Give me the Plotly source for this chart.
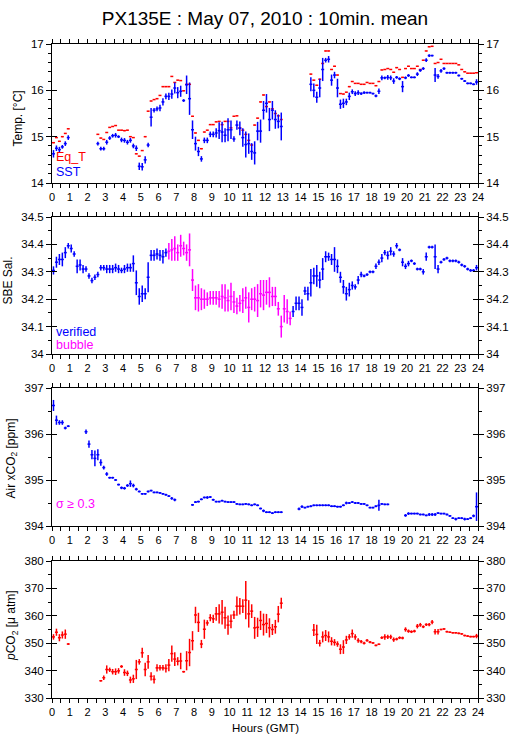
import plotly.graph_objects as go

# ---------------- data (10-min means, slot k = 0..143 covers k/6 .. (k+1)/6 h) ----------------
HOURS = [k / 6 + 1 / 12 for k in range(144)]
X_TICKS = [i / 2 for i in range(49)]
X_LABELS = [str(int(t)) if t == int(t) else "" for t in X_TICKS]

SST = ([14.63, 14.75, 14.72, 14.78, 14.85, 14.98] + [None] * 9 +
       [14.85, 14.74, 14.74, 14.88, 14.97, 15.02, 15.03, 15.00, 14.93, 14.92, 14.88, 14.92, 14.80, 14.75,
        14.36, 14.35, 14.50, 14.82, 15.42, 15.57, 15.60, 15.62, 15.75, 15.87, 15.87, 15.92, 16.05, 15.95,
        15.98, 15.78, 16.12, 15.82, 15.15, 14.85, 14.68, 14.52, 14.92, 14.92, 15.05, 15.05, 15.08, 15.13,
        15.10, 15.03, 15.15, 15.15, 14.95, 15.25, 15.18, 14.98, 14.83, 14.85, 14.68, 14.65, 15.12, 15.12,
        15.57, 15.72, 15.37, 15.57, 15.37, 15.33, 15.22] + [None] * 9 +
       [16.13, 16.00, 15.85, 16.05, 16.45, 16.65, 16.67, 16.22, 16.33, 16.05, 15.70, 15.72, 15.75, 15.87,
        15.97, 15.93, 15.95, 15.93, 15.95, 15.95, 15.95, 15.93, 15.88, 15.98, 16.27, 16.27, 16.28, 16.27,
        16.20, 16.28, 16.25, 16.08, 16.27, 16.32, 16.28, 16.28, 16.35, 16.43, 16.47, 16.65, 16.75, 16.75,
        16.33, 16.30, 16.42, 16.47, 16.38, 16.38, 16.38, 16.38, 16.32, 16.25, 16.20, 16.15, 16.15, 16.13,
        16.18])
SST_SD = ([0.08, 0.06, 0.06, 0.04, 0.05, 0.05] + [None] * 9 +
          [0.04, 0.04, 0.04, 0.05, 0.04, 0.04, 0.05, 0.03, 0.05, 0.05, 0.05, 0.05, 0.05, 0.06, 0.08, 0.08,
           0.08, 0.05, 0.2, 0.05, 0.05, 0.07, 0.08, 0.06, 0.08, 0.1, 0.12, 0.12, 0.12, 0.03, 0.2, 0.35,
           0.2, 0.15, 0.1, 0.06, 0.06, 0.06, 0.06, 0.06, 0.1, 0.18, 0.22, 0.15, 0.25, 0.2, 0.06, 0.1,
           0.15, 0.2, 0.28, 0.22, 0.18, 0.25, 0.2, 0.25, 0.2, 0.2, 0.25, 0.2, 0.2, 0.15, 0.3] + [None] * 9 +
          [0.15, 0.15, 0.12, 0.2, 0.25, 0.05, 0.07, 0.12, 0.07, 0.2, 0.1, 0.1, 0.07, 0.08, 0.05, 0.05,
           0.05, 0.03, 0.03, 0.02, 0.02, 0.02, 0.03, 0.06, 0.05, 0.03, 0.05, 0.05, 0.06, 0.03, 0.03, 0.12,
           0.03, 0.03, 0.02, 0.02, 0.04, 0.03, 0.03, 0.04, 0.03, 0.02, 0.15, 0.05, 0.04, 0.03, 0.02, 0.02,
           0.02, 0.02, 0.02, 0.02, 0.02, 0.02, 0.02, 0.02, 0.06])
EQ_T = ([14.87, 14.98, 14.90, 15.00, 15.07, 15.17] + [None] * 9 +
        [15.05, 14.97, 14.94, 15.09, 15.20, 15.22, 15.24, 15.14, 15.14, 15.13, 15.14, 15.00, 14.98, 14.63,
         14.58, 14.70, 15.00, 15.55, 15.77, 15.80, 15.82, 15.89, 16.08, 16.08, 16.08, 16.30, 16.17, 16.22,
         16.21, 15.99, 16.13, 16.13, 15.44, 15.08, 14.92, 14.74, 15.10, 15.14, 15.26, 15.26, 15.32, 15.33,
         15.26, 15.33, 15.33, 15.19, 15.44, 15.45, 15.19, 15.14, 15.05, 14.92, 14.82, 15.25, 15.40, 15.75,
         15.90, 15.65, 15.75, 15.60, 15.50, 15.45, 15.37] + [None] * 9 +
        [16.35, 16.22, 16.11, 16.24, 16.58, 16.85, 16.85, 16.45, 16.52, 16.33, 15.93, 15.92, 15.96, 16.08,
         16.19, 16.15, 16.15, 16.13, 16.13, 16.17, 16.15, 16.15, 16.10, 16.19, 16.44, 16.45, 16.47, 16.45,
         16.39, 16.49, 16.45, 16.28, 16.47, 16.52, 16.47, 16.47, 16.52, 16.45, 16.65, 16.85, 16.94, 16.95,
         16.58, 16.60, 16.67, 16.58, 16.58, 16.58, 16.58, 16.58, 16.55, 16.45, 16.40, 16.37, 16.37, 16.37,
         16.38])

SAL_VERIFIED = ([34.305, 34.335, 34.345, 34.345, 34.37, 34.395, 34.385, 34.365, 34.32, 34.325, 34.31, 34.31,
                 34.285, 34.268, 34.28, 34.29, 34.315, 34.315, 34.31, 34.31, 34.31, 34.315, 34.31, 34.305,
                 34.31, 34.315, 34.315, 34.33, 34.26, 34.21, 34.22, 34.22, 34.28, 34.36, 34.36, 34.365,
                 34.36, 34.355, 34.37] + [None] * 42 +
                [34.155, 34.185, 34.185, 34.17, 34.23, 34.22, 34.26, 34.285, 34.285, 34.27, 34.31, 34.355,
                 34.355, 34.345, 34.345, 34.32, 34.28, 34.245, 34.22, 34.235, 34.25, 34.245, 34.27, 34.29,
                 34.285, 34.29, 34.3, 34.3, 34.32, 34.335, 34.35, 34.37, 34.36, 34.375, 34.365, 34.395,
                 34.38, 34.335, 34.32, 34.33, 34.34, 34.33, 34.31, 34.31, 34.3, 34.355, 34.39, 34.39,
                 34.355, 34.31, 34.335, 34.345, 34.35, 34.34, 34.34, 34.34, 34.335, 34.325, 34.32, 34.31,
                 34.305, 34.305, 34.315])
SAL_VERIFIED_SD = ([0.015, 0.02, 0.02, 0.025, 0.02, 0.01, 0.015, 0.01, 0.025, 0.02, 0.015, 0.01, 0.01, 0.01,
                    0.01, 0.01, 0.01, 0.01, 0.015, 0.015, 0.015, 0.015, 0.015, 0.01, 0.015, 0.015, 0.015,
                    0.03, 0.045, 0.03, 0.03, 0.02, 0.055, 0.02, 0.02, 0.02, 0.02, 0.025, 0.015] + [None] * 42 +
                   [0.02, 0.025, 0.025, 0.03, 0.015, 0.025, 0.05, 0.03, 0.04, 0.03, 0.04, 0.02, 0.015, 0.02,
                    0.045, 0.025, 0.02, 0.025, 0.025, 0.025, 0.015, 0.01, 0.015, 0.01, 0.005, 0.005, 0.005,
                    0.005, 0.01, 0.01, 0.015, 0.01, 0.015, 0.015, 0.01, 0.01, 0.005, 0.015, 0.01, 0.01,
                    0.005, 0.005, 0.005, 0.005, 0.01, 0.015, 0.005, 0.005, 0.045, 0.015, 0.005, 0.005,
                    0.005, 0.005, 0.005, 0.005, 0.005, 0.005, 0.005, 0.005, 0.005, 0.005, 0.01])
SAL_BUBBLE = ([None] * 39 +
              [34.375, 34.38, 34.385, 34.37, 34.395, 34.385, 34.37, 34.38, 34.27, 34.205, 34.205, 34.2, 34.2,
               34.2, 34.205, 34.205, 34.205, 34.2, 34.21, 34.205, 34.195, 34.21, 34.19, 34.175, 34.185,
               34.195, 34.205, 34.17, 34.2, 34.2, 34.195, 34.22, 34.215, 34.225, 34.225, 34.21, 34.21,
               34.165, 34.1, 34.165, 34.155, 34.13] + [None] * 63)
SAL_BUBBLE_SD = ([None] * 39 +
                 [0.03, 0.04, 0.045, 0.03, 0.04, 0.025, 0.03, 0.06, 0.04, 0.045, 0.05, 0.04, 0.035, 0.025,
                  0.025, 0.025, 0.025, 0.03, 0.045, 0.05, 0.04, 0.05, 0.04, 0.03, 0.03, 0.045, 0.04, 0.055,
                  0.04, 0.045, 0.06, 0.05, 0.055, 0.045, 0.055, 0.035, 0.035, 0.025, 0.04, 0.05, 0.045,
                  0.025] + [None] * 63)

AIR_XCO2 = ([396.62, 396.30, 396.25, 396.25, 396.13, 396.17] + [None] * 5 +
            [396.05, 395.78, 395.55, 395.47, 395.55, 395.38, 395.27, 395.13, 395.05, 395.05, 395.0, 394.9,
             394.83, 394.82, 394.88, 394.92, 394.88, 394.8, 394.75, 394.7, 394.7, 394.75, 394.77, 394.73,
             394.73, 394.72, 394.7, 394.68, 394.65, 394.6, 394.57] + [None] * 5 +
            [394.46, 394.52, 394.53, 394.58, 394.62, 394.62, 394.63, 394.57, 394.53, 394.53, 394.55, 394.53,
             394.52, 394.52, 394.52, 394.48, 394.47, 394.47, 394.48, 394.47, 394.45, 394.47, 394.45, 394.38,
             394.33, 394.3, 394.3, 394.28, 394.3, 394.3, 394.3] + [None] * 5 +
            [394.37, 394.42, 394.4, 394.42, 394.43, 394.45, 394.45, 394.45, 394.45, 394.45, 394.45, 394.43,
             394.43, 394.42, 394.42, 394.45, 394.5, 394.5, 394.52, 394.5, 394.5, 394.48, 394.48, 394.45,
             394.4, 394.4, 394.43, 394.45, 394.48, 394.47, 394.47] + [None] * 5 +
            [394.23, 394.27, 394.27, 394.27, 394.27, 394.25, 394.25, 394.23, 394.25, 394.25, 394.25, 394.28,
             394.27, 394.27, 394.25, 394.22, 394.17, 394.15, 394.17, 394.17, 394.15, 394.15, 394.17, 394.22,
             394.42])
AIR_XCO2_SD = ([0.12, 0.1, 0.05, 0.05, 0.03, 0.02] + [None] * 5 +
               [0.05, 0.08, 0.1, 0.17, 0.12, 0.07, 0.04, 0.04, 0.02, 0.02, 0.02, 0.02, 0.03, 0.03, 0.03, 0.07,
                0.04, 0.03, 0.02, 0.02, 0.02, 0.02, 0.02, 0.02, 0.02, 0.02, 0.02, 0.02, 0.02, 0.03, 0.03] +
               [None] * 5 +
               [0.02, 0.02, 0.02, 0.02, 0.02, 0.03, 0.02, 0.02, 0.02, 0.02, 0.02, 0.02, 0.02, 0.02, 0.02, 0.02,
                0.02, 0.02, 0.02, 0.02, 0.02, 0.02, 0.02, 0.02, 0.03, 0.02, 0.02, 0.02, 0.02, 0.02, 0.02] +
               [None] * 5 +
               [0.03, 0.03, 0.02, 0.02, 0.02, 0.02, 0.02, 0.02, 0.02, 0.02, 0.02, 0.02, 0.02, 0.02, 0.02, 0.02,
                0.03, 0.02, 0.02, 0.02, 0.02, 0.02, 0.02, 0.02, 0.02, 0.02, 0.02, 0.12, 0.02, 0.02, 0.02] +
               [None] * 5 +
               [0.03, 0.03, 0.02, 0.02, 0.02, 0.02, 0.02, 0.02, 0.03, 0.03, 0.03, 0.02, 0.02, 0.02, 0.02, 0.02,
                0.02, 0.03, 0.02, 0.02, 0.03, 0.02, 0.02, 0.03, 0.31])

PCO2 = ([352.3, 354.0, 352.0, 353.0, 353.3, 349.7] + [None] * 10 +
        [336.3, 337.4, 340.4, 340.3, 339.6, 339.6, 339.9, 341.5, 339.3, 339.0, 336.6, 337.0, 340.4, 343.2,
         346.5, 340.4, 343.2, 337.9, 336.8, 341.0, 341.0, 341.0, 340.8, 342.0, 346.2, 344.2, 343.4, 343.5,
         339.6, 343.6, 346.6, 350.9, 360.3, 357.6, 349.7, 355.1, 357.4, 359.3, 358.9, 360.7, 360.7, 361.3,
         359.3, 356.6, 358.0, 360.3, 363.5, 363.5, 363.5, 365.7, 360.7, 361.7, 355.6, 355.8, 358.3, 356.8,
         357.2, 355.6, 355.0, 356.0, 360.6, 364.6] + [None] * 10 +
        [354.8, 353.2, 350.0, 352.3, 352.8, 352.3, 350.7, 350.3, 349.7, 347.8, 348.6, 351.2, 352.3, 353.5,
         352.3, 351.0, 350.6, 350.0, 351.0, 350.4, 350.1, 349.2, 349.6, 352.0, 352.3, 352.3, 352.3, 351.3,
         351.5, 352.0, 351.9, 355.0, 354.4, 354.2, 354.4, 356.2, 356.7, 356.0, 356.8, 356.8, 357.7, 354.2,
         354.2, 355.0, 355.2, 354.2, 354.0, 353.8, 353.8, 353.6, 353.4, 352.8, 352.6, 352.4, 352.4, 352.6])
PCO2_SD = ([1.0, 1.3, 1.3, 1.3, 1.7, 0.3] + [None] * 10 +
           [0.3, 0.8, 1.5, 0.8, 1.0, 1.2, 1.0, 0.5, 1.2, 1.0, 1.2, 1.5, 3.5, 1.0, 1.8, 2.5, 2.5, 1.5, 1.5,
            1.3, 1.0, 1.0, 1.5, 2.2, 3.0, 2.5, 1.5, 3.0, 0.3, 3.5, 5.0, 3.5, 3.0, 3.5, 1.5, 3.5, 1.0, 1.3,
            1.5, 2.5, 3.5, 4.5, 4.0, 3.5, 2.5, 1.5, 3.5, 3.0, 2.5, 7.0, 5.0, 2.5, 4.0, 3.5, 3.5, 4.0, 3.5,
            3.5, 2.0, 2.5, 3.0, 2.0] + [None] * 10 +
           [2.2, 3.5, 1.2, 2.0, 2.0, 2.0, 1.5, 1.2, 1.0, 1.8, 2.5, 1.5, 1.0, 1.5, 1.0, 0.8, 0.6, 0.5, 0.5,
            0.4, 0.3, 0.3, 0.3, 0.5, 1.0, 0.8, 0.8, 0.8, 0.5, 0.5, 0.5, 0.8, 0.6, 0.5, 0.5, 0.8, 0.7, 0.5,
            0.5, 0.6, 0.8, 1.0, 1.0, 0.3, 0.3, 0.3, 0.3, 0.3, 0.3, 0.3, 0.3, 0.3, 0.3, 0.3, 0.3, 0.8])

# panel definitions: y range, major ticks, labels, minor step
PANELS = [
    dict(rng=[14, 17], ticks=[14, 15, 16, 17], labels=["14", "15", "16", "17"], minor=0.2,
         title="Temp. [°C]"),
    dict(rng=[34, 34.5], ticks=[34, 34.1, 34.2, 34.3, 34.4, 34.5],
         labels=["34", "34.1", "34.2", "34.3", "34.4", "34.5"], minor=0.05, title="SBE Sal."),
    dict(rng=[394, 397], ticks=[394, 395, 396, 397], labels=["394", "395", "396", "397"], minor=0.5,
         title="Air xCO<sub>2</sub> [ppm]"),
    dict(rng=[330, 380], ticks=[330, 340, 350, 360, 370, 380],
         labels=["330", "340", "350", "360", "370", "380"], minor=5,
         title="<i>p</i>CO<sub>2</sub> [μ atm]"),
]

# ---------------- layout geometry (pixels) ----------------
W, H = 515, 739
LEFT, RIGHT = 52, 478
PANEL_PX = [(44, 183), (217, 354), (388, 526), (561, 698)]
TITLE_PX = [(17.5, 119), (7.5, 281), (11.5, 459), (12, 626)]

BLUE, RED, MAGENTA = "#0000ff", "#ff0000", "#ff00ff"
FONT = "Liberation Sans, Arial, sans-serif"


def pxx(px):
    return (px - LEFT) / (RIGHT - LEFT)


def pxy(py):
    return 1 - py / H


fig = go.Figure()


def add_series(values, sd, color, panel):
    err_y = (dict(type="data", array=sd, symmetric=True, width=0, thickness=1.5, color=color)
             if sd is not None else dict(visible=False))
    fig.add_trace(go.Scatter(
        x=HOURS, y=values, mode="markers",
        marker=dict(size=1, color=color),
        error_x=dict(type="constant", value=1 / 12, width=0, thickness=1.5, color=color),
        error_y=err_y,
        xaxis="x" if panel == 1 else f"x{panel}",
        yaxis="y" if panel == 1 else f"y{panel}",
        showlegend=False, hoverinfo="skip"))


add_series(EQ_T, None, RED, 1)
add_series(SST, SST_SD, BLUE, 1)
add_series(SAL_VERIFIED, SAL_VERIFIED_SD, BLUE, 2)
add_series(SAL_BUBBLE, SAL_BUBBLE_SD, MAGENTA, 2)
add_series(AIR_XCO2, AIR_XCO2_SD, BLUE, 3)
add_series(PCO2, PCO2_SD, RED, 4)

layout = dict(
    width=W, height=H, template="none",
    paper_bgcolor="white", plot_bgcolor="white",
    margin=dict(l=LEFT, r=W - RIGHT, t=0, b=0, pad=0),
    showlegend=False,
    font=dict(family=FONT, size=11, color="black"),
    title=dict(text="PX135E : May 07, 2010 : 10min. mean", x=265 / W, xref="container",
               y=1 - 18 / H, yref="container", xanchor="center", yanchor="middle",
               font=dict(family=FONT, size=19, color="black")),
)

annotations = []
for i, (p, (top, bot)) in enumerate(zip(PANELS, PANEL_PX), start=1):
    dom = [pxy(bot), pxy(top)]
    xa = "xaxis" if i == 1 else f"xaxis{i}"
    ya = "yaxis" if i == 1 else f"yaxis{i}"
    xn = "x" if i == 1 else f"x{i}"
    yn = "y" if i == 1 else f"y{i}"
    layout[xa] = dict(domain=[0, 1], range=[0, 24], anchor=yn, tickmode="array",
                      tickvals=X_TICKS, ticktext=X_LABELS, ticks="outside", ticklen=4, tickwidth=1,
                      tickcolor="black", showline=True, linewidth=1, linecolor="black", mirror="ticks",
                      showgrid=False, zeroline=False, automargin=False,
                      tickfont=dict(family=FONT, size=11, color="black"), fixedrange=True)
    common = dict(range=p["rng"], domain=dom, anchor=xn, showgrid=False, zeroline=False,
                  automargin=False, fixedrange=True, tickmode="array", tickvals=p["ticks"],
                  ticktext=p["labels"], tickcolor="black", tickwidth=1,
                  tickfont=dict(family=FONT, size=11.5, color="black"))
    layout[ya] = dict(common, side="left", ticks="outside", ticklen=5, showline=True, linewidth=1,
                      linecolor="black", mirror=True,
                      minor=dict(dtick=p["minor"], tick0=p["rng"][0], ticks="outside", ticklen=3,
                                 tickcolor="black", tickwidth=1, showgrid=False))
    n_r, n_li, n_ri = i + 4, i + 8, i + 12
    # right-hand labelled axis
    layout[f"yaxis{n_r}"] = dict(common, side="right", overlaying=yn, ticks="outside", ticklen=5,
                                 showline=False,
                                 minor=dict(dtick=p["minor"], tick0=p["rng"][0], ticks="outside",
                                            ticklen=3, tickcolor="black", tickwidth=1, showgrid=False))
    # inner halves of the crossing major ticks
    layout[f"yaxis{n_li}"] = dict(common, side="left", overlaying=yn, ticks="inside", ticklen=5,
                                  showline=False, showticklabels=False)
    layout[f"yaxis{n_ri}"] = dict(common, side="right", overlaying=yn, ticks="inside", ticklen=5,
                                  showline=False, showticklabels=False)
    for n in (n_r, n_li, n_ri):
        fig.add_trace(go.Scatter(x=[None], y=[None], xaxis=xn, yaxis=f"y{n}", showlegend=False,
                                 hoverinfo="skip", mode="markers"))
    tx, ty = TITLE_PX[i - 1]
    annotations.append(dict(text=p["title"], x=pxx(tx), y=pxy(ty), xref="paper", yref="paper",
                            showarrow=False, textangle=-90, xanchor="center", yanchor="middle",
                            font=dict(family=FONT, size=12, color="black")))

# in-panel legend texts and x-axis title
for text, color, px_, py_ in [("Eq_T", RED, 54, 157), ("SST", BLUE, 54, 172),
                              ("verified", BLUE, 54, 332), ("bubble", MAGENTA, 54, 345),
                              ("σ ≥ 0.3", MAGENTA, 54, 504)]:
    annotations.append(dict(text=text, x=pxx(px_), y=pxy(py_), xref="paper", yref="paper",
                            showarrow=False, xanchor="left", yanchor="middle",
                            font=dict(family=FONT, size=12.5, color=color)))
annotations.append(dict(text="Hours (GMT)", x=pxx(265), y=pxy(728), xref="paper", yref="paper",
                        showarrow=False, xanchor="center", yanchor="middle",
                        font=dict(family=FONT, size=11.5, color="black")))
layout["annotations"] = annotations

fig.update_layout(**layout)
fig.write_html("out.html", config={"displayModeBar": False},
               post_script="document.body.style.margin='0';document.body.style.overflow='hidden';")
